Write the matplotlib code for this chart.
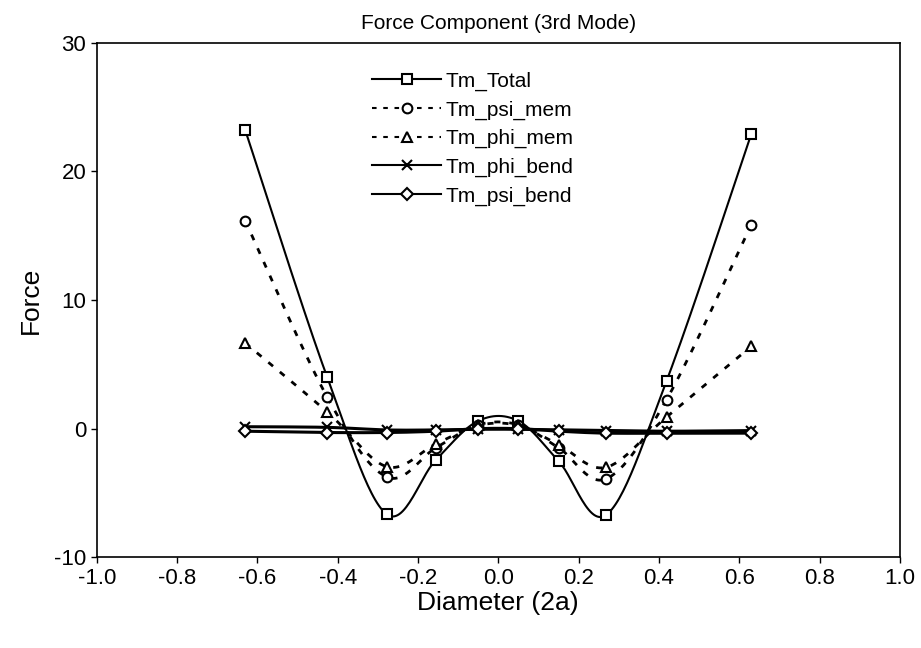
import numpy as np
import matplotlib
matplotlib.use('Agg')
import matplotlib.pyplot as plt
from matplotlib.lines import Line2D

plt.rcParams['font.family'] = ['Liberation Sans', 'DejaVu Sans']
plt.rcParams['axes.unicode_minus'] = False

# data
diameter = [-0.63, -0.426, -0.278, -0.156, -0.05, 0.05, 0.151, 0.269, 0.419, 0.63]
tm_total = [23.2, 4.0, -6.65, -2.45, 0.6, 0.6, -2.55, -6.7, 3.7, 22.9]
tm_psi_mem = [16.15, 2.45, -3.75, -1.5, 0.3, 0.3, -1.5, -3.9, 2.25, 15.85]
tm_phi_mem = [6.65, 1.3, -2.95, -1.2, 0.25, 0.25, -1.25, -3.0, 0.9, 6.4]
tm_phi_bend = [0.15, 0.1, -0.1, -0.1, -0.05, -0.05, -0.1, -0.15, -0.2, -0.15]
tm_psi_bend = [-0.2, -0.3, -0.3, -0.2, 0.0, 0.0, -0.2, -0.35, -0.35, -0.35]
x_ticks = [-1.0, -0.8, -0.6, -0.4, -0.2, 0.0, 0.2, 0.4, 0.6, 0.8, 1.0]
x_tick_labels = ['-1.0', '-0.8', '-0.6', '-0.4', '-0.2', '0.0', '0.2', '0.4', '0.6', '0.8', '1.0']
y_ticks = [-10, 0, 10, 20, 30]

names = ['Tm_Total', 'Tm_psi_mem', 'Tm_phi_mem', 'Tm_phi_bend', 'Tm_psi_bend']
series = [tm_total, tm_psi_mem, tm_phi_mem, tm_phi_bend, tm_psi_bend]
markers = ['s', 'o', '^', 'x', 'D']
dashed = (0, (2.2, 3.2))
styles = ['-', dashed, dashed, '-', '-']


def smooth(x, y, n=30):
    # excel style smoothed line (catmull-rom bezier)
    x = np.asarray(x, float)
    y = np.asarray(y, float)
    px = np.concatenate([[x[0]], x, [x[-1]]])
    py = np.concatenate([[y[0]], y, [y[-1]]])
    xs, ys = [], []
    t = np.linspace(0, 1, n)
    for i in range(1, len(px) - 2):
        p0 = np.array([px[i], py[i]])
        p3 = np.array([px[i + 1], py[i + 1]])
        c1 = p0 + (np.array([px[i + 1], py[i + 1]]) - np.array([px[i - 1], py[i - 1]])) / 6
        c2 = p3 - (np.array([px[i + 2], py[i + 2]]) - np.array([px[i], py[i]])) / 6
        b = ((1 - t) ** 3)[:, None] * p0 + (3 * (1 - t) ** 2 * t)[:, None] * c1 \
            + (3 * (1 - t) * t ** 2)[:, None] * c2 + (t ** 3)[:, None] * p3
        xs.extend(b[:, 0])
        ys.extend(b[:, 1])
    return xs, ys


fig = plt.figure(figsize=(9.21, 6.48), dpi=100)
ax = fig.add_axes([0.105, 0.14, 0.872, 0.794])

handles = []
for name, vals, m, ls in zip(names, series, markers, styles):
    sx, sy = smooth(diameter, vals)
    lw = 2.0 if ls is dashed else 1.5
    if name in ('Tm_phi_bend', 'Tm_psi_bend'):
        lw = 2.2
    ax.plot(sx, sy, color='black', linestyle=ls, linewidth=lw)
    ms = 6 if m == 'D' else 7
    ax.plot(diameter, vals, linestyle='none', marker=m, markersize=ms,
            markerfacecolor='white', markeredgecolor='black', markeredgewidth=1.5)
    handles.append(Line2D([], [], color='black', linestyle=ls, linewidth=1.5,
                          marker=m, markersize=ms, markerfacecolor='white',
                          markeredgecolor='black', markeredgewidth=1.5, label=name))

ax.set_xlim(-1.0, 1.0)
ax.set_ylim(-10, 30)
ax.set_xticks(x_ticks)
ax.set_xticklabels(x_tick_labels)
ax.set_yticks(y_ticks)
ax.tick_params(direction='out', length=4, width=1, labelsize=16, colors='black')
for s in ax.spines.values():
    s.set_linewidth(1.2)

ax.set_xlabel('Diameter (2a)', fontsize=19, labelpad=2)
ax.set_ylabel('Force', fontsize=19, labelpad=8)
ax.set_title('Force Component (3rd Mode)', fontsize=15, pad=10)

ax.legend(handles=handles, loc='upper left', bbox_to_anchor=(0.325, 0.972),
          frameon=False, fontsize=15, handlelength=3.3, handletextpad=0.2,
          labelspacing=0.45, borderpad=0.2)

plt.savefig('out.png', dpi=100)
